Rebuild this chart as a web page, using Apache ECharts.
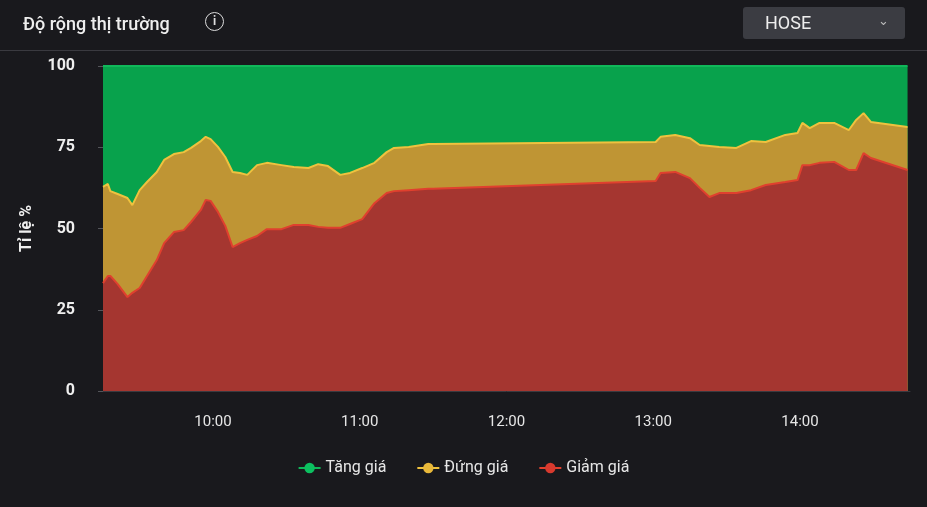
<!DOCTYPE html>
<html>
<head>
<meta charset="utf-8">
<script src="https://cdn.jsdelivr.net/npm/echarts@6/dist/echarts.min.js"></script>
<style>
  body { margin: 0; background: #19191d; font-family: Roboto, 'Noto Sans', sans-serif; }
  #head { position: absolute; left: 0; top: 0; width: 927px; height: 50px; border-bottom: 1px solid #3a3a40; }
  #title { position: absolute; left: 23px; top: 13px; color: #eee; font-size: 18px; font-weight: 500; }
  #info { position: absolute; left: 205px; top: 12px; width: 17px; height: 17px; border: 1.5px solid #ddd; border-radius: 50%;
          color: #ddd; font-size: 12px; text-align: center; line-height: 17px; font-weight: bold; }
  #sel { position: absolute; left: 743px; top: 7px; width: 162px; height: 32px; background: #3b3c42; border-radius: 3px; }
  #sel span { position: absolute; left: 22px; top: 5px; color: #eee; font-size: 18px; }
  #sel i { position: absolute; right: 16px; top: 6px; color: #bbb; font-style: normal; font-size: 13px; }
  #chart { position: absolute; left: 0; top: 0; width: 927px; height: 507px; }
</style>
</head>
<body>
<div id="chart"></div>
<div id="head">
  <div id="title">Độ rộng thị trường</div>
  <div id="info">i</div>
  <div id="sel"><span>HOSE</span><i>&#8964;</i></div>
</div>
<script>
'use strict';

var times = ['09:15','09:17','09:18','09:21','09:25','09:27','09:30','09:33','09:37','09:40',
             '09:44','09:48','09:51','09:55','09:57','09:59','10:02','10:05','10:08','10:11',
             '10:14','10:18','10:22','10:28','10:33','10:39','10:43','10:47','10:52','10:56',
             '11:01','11:06','11:11','11:14','11:20','11:28','11:30','13:01','13:03','13:09',
             '13:15','13:19','13:23','13:27','13:34','13:40','13:46','13:54','13:59','14:01',
             '14:04','14:08','14:14','14:20','14:23','14:26','14:29','14:44'];
var giamGia = [33.2,35.4,35.4,32.9,28.9,30.2,31.7,35.4,40.3,45.5,
               48.9,49.5,52.0,55.7,58.8,58.5,55.1,50.8,44.3,45.5,
               46.5,47.7,49.8,49.8,51.1,51.1,50.5,50.2,50.2,51.4,
               52.9,57.8,60.9,61.5,61.8,62.2,62.2,64.6,67.1,67.4,
               65.5,62.5,59.7,60.9,60.9,61.8,63.4,64.3,64.9,69.5,
               69.5,70.2,70.5,68.0,68.0,73.2,71.7,68.0];
var dungGia = [29.6,28.3,26.1,27.7,30.5,27.0,30.1,28.9,27.1,25.6,
               24.0,24.0,22.8,21.2,19.4,19.0,20.0,21.2,23.1,21.6,
               20.0,21.8,20.4,19.7,17.8,17.5,19.3,19.0,16.3,15.7,
               15.7,12.4,12.6,13.3,13.3,13.8,13.8,12.0,11.1,11.4,
               12.3,13.2,15.7,14.2,13.9,15.1,13.2,14.5,14.5,13.0,
               11.4,12.3,12.0,12.3,15.4,12.3,11.1,13.2];
var tangGia = [37.2,36.3,38.5,39.4,40.6,42.8,38.2,35.7,32.6,28.9,
               27.1,26.5,25.2,23.1,21.8,22.5,24.9,28.0,32.6,32.9,
               33.5,30.5,29.8,30.5,31.1,31.4,30.2,30.8,33.5,32.9,
               31.4,29.8,26.5,25.2,24.9,24.0,24.0,23.4,21.8,21.2,
               22.2,24.3,24.6,24.9,25.2,23.1,23.4,21.2,20.6,17.5,
               19.1,17.5,17.5,19.7,16.6,14.5,17.2,18.8];
var hourTicks = ['10:00','11:00','12:00','13:00','14:00'];

function toMin(s) {
    var p = s.split(':');
    return +p[0] * 60 + +p[1];
}
function fmt(m) {
    var h = Math.floor(m / 60), mm = m % 60;
    return (h < 10 ? '0' : '') + h + ':' + (mm < 10 ? '0' : '') + mm;
}
// stacked by hand: value axis on both sides breaks the built-in stack
function stacked(layers) {
    return times.map((t, i) => {
        var s = 0;
        for (const l of layers) s += l[i];
        return [toMin(t), Math.round(s * 10) / 10];
    });
}

var chart = echarts.init(document.getElementById('chart'));
var tickVals = hourTicks.map(toMin);
var option = {
    backgroundColor: 'transparent',
    textStyle: {fontFamily: 'Roboto'},
    grid: {left: 103, right: 17, top: 66, bottom: 116},
    legend: {
        bottom: 26, itemGap: 30, itemWidth: 22, itemHeight: 13,
        textStyle: {color: '#e6e6e6', fontSize: 16},
        data: ['Tăng giá', 'Đứng giá', 'Giảm giá']
    },
    xAxis: {
        type: 'value', min: 555, max: 885,
        splitLine: {show: false},
        axisLine: {lineStyle: {color: '#3a3a40'}},
        axisTick: {show: false},
        axisLabel: {customValues: tickVals, formatter: fmt, color: '#e6e6e6', fontSize: 15, margin: 24}
    },
    yAxis: {
        type: 'value', min: 0, max: 100, interval: 25,
        name: 'Tỉ lệ %', nameLocation: 'middle', nameGap: 68, nameRotate: 90,
        nameTextStyle: {color: '#eee', fontSize: 16, fontWeight: 'bold'},
        splitLine: {show: false},
        axisLine: {show: false},
        axisLabel: {color: '#eee', fontSize: 16, fontWeight: 'bold', margin: 28}
    },
    series: [
        {name: 'Tăng giá', type: 'line', symbol: 'none', data: stacked([giamGia, dungGia, tangGia]),
         itemStyle: {color: '#0cc060'}, lineStyle: {width: 2, color: '#10b85a'},
         areaStyle: {color: '#08a24c', opacity: 1}},
        {name: 'Đứng giá', type: 'line', symbol: 'none', data: stacked([giamGia, dungGia]),
         itemStyle: {color: '#e8b83a'}, lineStyle: {width: 2, color: '#efc23e'},
         areaStyle: {color: '#bf9534', opacity: 1}},
        {name: 'Giảm giá', type: 'line', symbol: 'none', data: stacked([giamGia]),
         itemStyle: {color: '#d83a2e'}, lineStyle: {width: 2, color: '#e0402e'},
         areaStyle: {color: '#a53630', opacity: 1}}
    ]
};
chart.setOption(option);
</script>
</body>
</html>
